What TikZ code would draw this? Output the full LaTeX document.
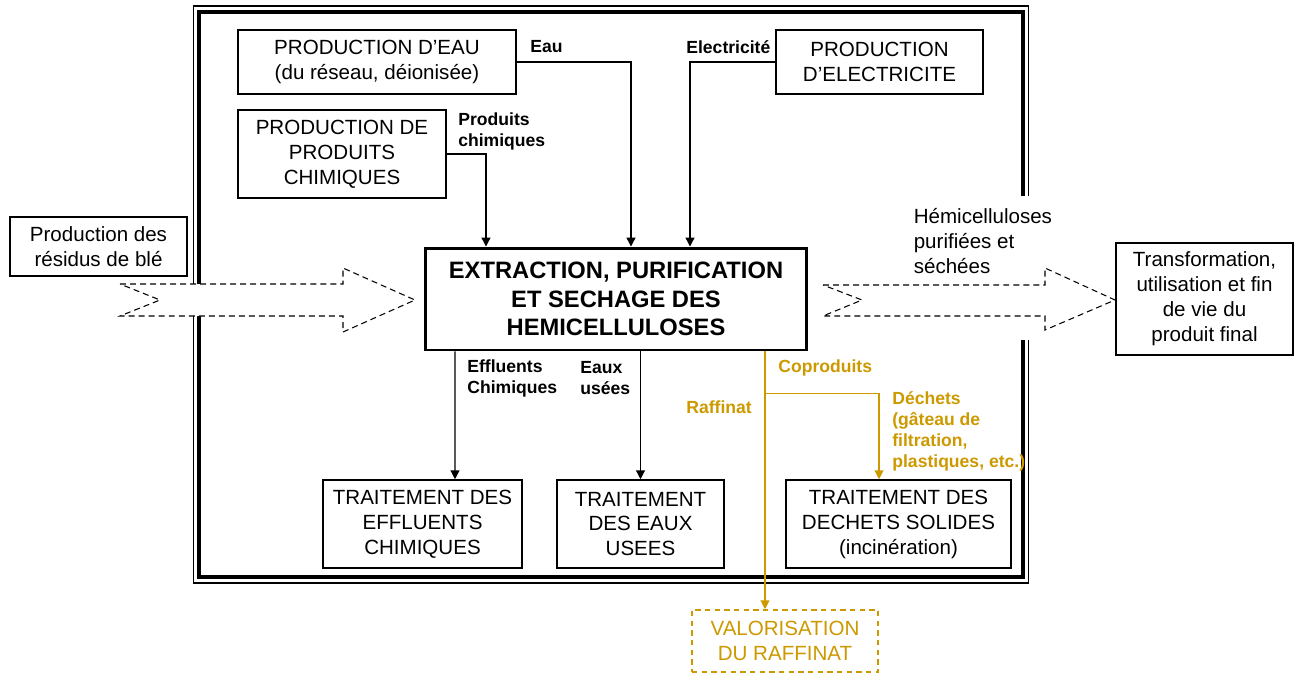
\documentclass[tikz,border=0pt]{standalone}
\usepackage{fontspec}
\setmainfont{Liberation Sans}
\usetikzlibrary{positioning, arrows.meta, calc}
\definecolor{gold}{RGB}{204,153,0}

\begin{document}
\begin{tikzpicture}[
		x=0.02cm, y=-0.02cm,
		>={Triangle[length=5pt, width=5pt]},
		% Define styles
		base/.style={rectangle, draw, line width=0.9pt, align=center, inner sep=2pt, font=\fontsize{11.7}{14.2}\selectfont},
		unit/.style={base, minimum height=1.76cm},
		process/.style={base, line width=1.7pt, minimum width=7.64cm, minimum height=2.04cm, font=\fontsize{13.5}{16.2}\selectfont\bfseries},
		coproduct/.style={base, draw=gold, text=gold, dash pattern=on 3pt off 2.5pt},
		flowlabel/.style={inner sep=0pt, align=left, font=\fontsize{10}{11.9}\selectfont\bfseries},
		goldlabel/.style={flowlabel, text=gold},
		flow/.style={->, line width=0.7pt},
		goldflow/.style={flow, color=gold},
		blockarrow/.style={draw, fill=white, line width=0.6pt, dash pattern=on 3.4pt off 2.3pt}
		]
		
		\useasboundingbox (0,0) rectangle (1298,674);
		
		% 1. System boundary (double frame, open on the right for the product)
		\draw[line width=0.6pt] (1028.5,196) -- (1028.5,6) -- (193.5,6) -- (193.5,583) -- (1028.5,583) -- (1028.5,340);
		\draw[line width=2.3pt] (1023,196) -- (1023,12) -- (199,12) -- (199,577) -- (1023,577) -- (1023,340);
		
		% 2. Main material flow (dashed block arrows)
		\draw[blockarrow] (120,284) -- (343,284) -- (343,268) -- (415,300) -- (343,332) -- (343,316) -- (120,316) -- (160,300) -- cycle;
		\draw[blockarrow] (823,285) -- (1045,285) -- (1045,268) -- (1115,300) -- (1045,330) -- (1045,316) -- (823,316) -- (862,300) -- cycle;
		
		% 3. Inputs
		\node[base, minimum width=5.56cm, minimum height=1.28cm] (eau) at (377,62) {PRODUCTION D’EAU\\(du réseau, déionisée)};
		\node[base, minimum width=4.14cm, minimum height=1.28cm] (elec) at (879.5,62) {PRODUCTION\\D’ELECTRICITE};
		\node[base, minimum width=4.16cm, minimum height=1.76cm] (chem) at (342,154) {PRODUCTION DE\\PRODUITS\\CHIMIQUES};
		
		% 4. Process
		\node[process] (main) at (616,299) {EXTRACTION, PURIFICATION\\ET SECHAGE DES\\HEMICELLULOSES};
		
		% 5. Upstream / downstream of the system
		\node[base, minimum width=3.54cm, minimum height=1.18cm] (residus) at (98.5,246.5) {Production des\\résidus de blé};
		\node[base, minimum width=3.54cm, minimum height=2.24cm] (final) at (1204.5,299) {Transformation,\\utilisation et fin\\de vie du\\produit final};
		
		% 6. Treatments (bottom row)
		\node[unit, minimum width=3.98cm] (effluents) at (422.5,524) {TRAITEMENT DES\\EFFLUENTS\\CHIMIQUES};
		\node[unit, minimum width=3.34cm] (eaux) at (640.5,524) {TRAITEMENT\\DES EAUX\\USEES};
		\node[unit, minimum width=4.5cm] (dechets) at (898.5,524) {TRAITEMENT DES\\DECHETS SOLIDES\\(incinération)};
		\node[coproduct, minimum width=3.72cm, minimum height=1.24cm] (valo) at (785,641) {VALORISATION\\DU RAFFINAT};
		
		% Flow labels
		\node[flowlabel, anchor=west] (leau) at (530,47) {Eau};
		\node[flowlabel, anchor=west] (lelec) at (686,47) {Electricité};
		\node[flowlabel, anchor=west] (lchem) at (458,131) {Produits\\chimiques};
		\node[flowlabel, anchor=west] (leff) at (467,378) {Effluents\\Chimiques};
		\node[flowlabel, anchor=west] (leaux) at (580,378) {Eaux\\usées};
		\node[goldlabel, anchor=west] (lcopro) at (778,368) {Coproduits};
		\node[goldlabel, anchor=west] (lraff) at (686,407) {Raffinat};
		\node[goldlabel, anchor=west] (ldech) at (892,431.5) {Déchets\\(gâteau de\\filtration,\\plastiques, etc.)};
		\node[base, draw=none, anchor=west, align=left, inner sep=0pt] (lhemi) at (913,241) {Hémicelluloses\\purifiées et\\séchées};
		
		% Connections
		\draw[flow] (eau.east) -| ($(main.north)+(15,0)$);
		\draw[flow] (elec.west) -| ($(main.north)+(74,0)$);
		\draw[flow] (chem.east) -| ($(main.north)+(-130,0)$);
		\draw[flow] ($(main.south)+(-161,0)$) -- ($(effluents.north)+(32.5,0)$);
		\draw[flow] (main.south -| eaux.north) -- (eaux.north);
		\draw[goldflow] ($(main.south)+(149,0)$) -- ($(valo.north)+(-20,0)$);
		\coordinate (split) at ($(main.south)+(149,42)$);
		\draw[goldflow] (split) -| ($(dechets.north)+(-19.5,0)$);
		
	\end{tikzpicture}
\end{document}
